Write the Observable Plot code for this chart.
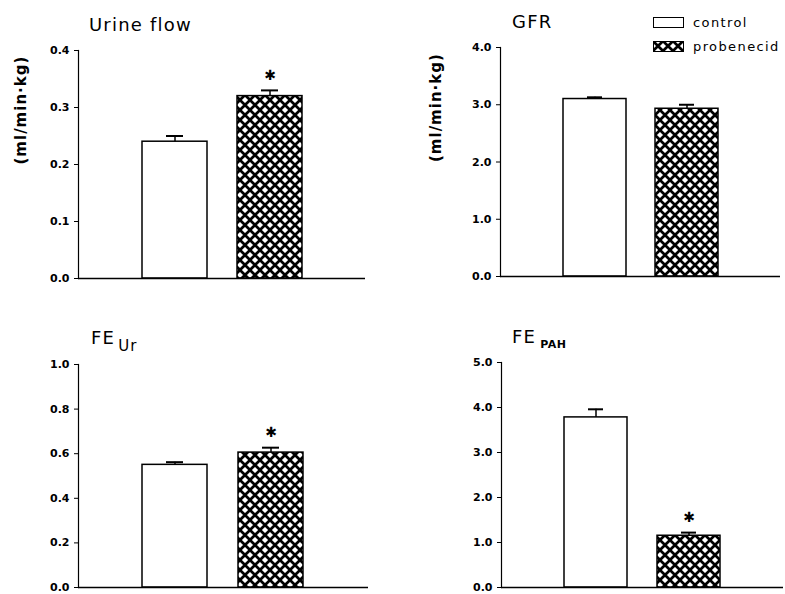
<!DOCTYPE html>
<html><head><meta charset="utf-8">
<script src="https://cdn.jsdelivr.net/npm/d3@7"></script>
<script src="https://cdn.jsdelivr.net/npm/@observablehq/plot@0.6"></script>
<style>
body{margin:0;background:#fff;}
#wrap{position:relative;width:785px;height:594px;overflow:hidden;font-family:"DejaVu Sans",sans-serif;color:#000;}
.panel{position:absolute;}
.panel svg{overflow:visible;}
.title{position:absolute;font-size:18px;line-height:18px;letter-spacing:1.2px;white-space:nowrap;}
.sub{position:relative;}
.legend{position:absolute;font-size:13px;line-height:13px;letter-spacing:1.4px;white-space:nowrap;display:flex;align-items:center;}
.legend svg{margin-right:9px;}
</style></head><body>
<svg width="0" height="0" style="position:absolute">
  <defs>
    <pattern id="xhatch" patternUnits="userSpaceOnUse" width="10" height="10">
      <rect width="10" height="10" fill="white"/>
      <path d="M0,0L10,10M10,0L0,10" stroke="black" stroke-width="2.7"/>
    </pattern>
  </defs>
</svg>
<div id="wrap"></div>
<script>
// ---- data ----
const groups = ["control", "probenecid"];
const urineFlow = [0.24, 0.32];
const urineFlowSem = [0.01, 0.01];
const gfr = [3.10, 2.93];
const gfrSem = [0.03, 0.07];
const feUr = [0.55, 0.605];
const feUrSem = [0.012, 0.022];
const fePah = [3.78, 1.15];
const fePahSem = [0.18, 0.07];
const significant = [[false, true], [false, false], [false, true], [false, true]];
const yMax = [0.4, 4.0, 1.0, 5.0];
const yTicks = [[0, 0.1, 0.2, 0.3, 0.4], [0, 1, 2, 3, 4], [0, 0.2, 0.4, 0.6, 0.8, 1.0], [0, 1, 2, 3, 4, 5]];
const yLabel = "(ml/min·kg)";
const starGlyph = "✱";

// ---- layout ----
const wrap = document.getElementById("wrap");
const layouts = [
  {left: 0, top: 0, ml: 78, mr: 30, mt: 50, mb: 22, label: true, lx: -57},
  {left: 390, top: 0, ml: 110, mr: 5, mt: 47, mb: 24, label: true, lx: -64},
  {left: 0, top: 290, ml: 78, mr: 27, mt: 74, mb: 3, label: false},
  {left: 390, top: 290, ml: 111, mr: 2, mt: 72, mb: 3, label: false}
];
const seriesMeans = [urineFlow, gfr, feUr, fePah];
const seriesSems = [urineFlowSem, gfrSem, feUrSem, fePahSem];

layouts.forEach((L, i) => {
  const rows = groups.map((g, j) => ({
    group: g, mean: seriesMeans[i][j], sem: seriesSems[i][j],
    top: seriesMeans[i][j] + seriesSems[i][j], sig: significant[i][j]
  }));
  const marks = [
    Plot.barY(rows.filter(d => d.group === "control"), {x: "group", y: "mean", fill: "white", stroke: "black", strokeWidth: 1.5}),
    Plot.barY(rows.filter(d => d.group !== "control"), {x: "group", y: "mean", fill: "url(#xhatch)", stroke: "black", strokeWidth: 1.5}),
    Plot.ruleX(rows, {x: "group", y1: "mean", y2: "top", strokeWidth: 1.5}),
    Plot.tickY(rows, {x: "group", y: "top", strokeWidth: 2, insetLeft: 24, insetRight: 24}),
    Plot.text(rows.filter(d => d.sig), {x: "group", y: "top", text: () => starGlyph, dy: -15}),
    Plot.ruleY([0], {strokeWidth: 1.6}),
    Plot.frame({anchor: "left", strokeWidth: 1.2})
  ];
  if (L.label) marks.push(Plot.text([yLabel], {frameAnchor: "left", rotate: -90, dx: L.lx}));
  const chart = Plot.plot({
    width: 395, height: 300,
    marginLeft: L.ml, marginRight: L.mr, marginTop: L.mt, marginBottom: L.mb,
    style: {fontFamily: "DejaVu Sans", fontSize: "11px", fontWeight: "bold", color: "#000", background: "transparent", overflow: "visible"},
    x: {domain: groups, paddingInner: 0.32, paddingOuter: 0.67, axis: null},
    y: {domain: [0, yMax[i]], ticks: yTicks[i], tickFormat: d3.format(".1f"), tickSize: 4, tickPadding: 5, label: null},
    marks
  });
  chart.querySelectorAll("text").forEach(t => {
    if (t.textContent === yLabel) {
      t.style.fontSize = "15px";
      t.style.fontWeight = "bold";
      t.style.letterSpacing = "1px";
    } else if (t.textContent === starGlyph) {
      t.style.fontSize = "14px";
      t.style.fontWeight = "bold";
    }
  });
  const div = document.createElement("div");
  div.className = "panel";
  div.style.left = L.left + "px";
  div.style.top = L.top + "px";
  div.appendChild(chart);
  wrap.appendChild(div);
});

// ---- titles ----
function addTitle(html, left, top) {
  const t = document.createElement("div");
  t.className = "title";
  t.style.left = left + "px";
  t.style.top = top + "px";
  t.innerHTML = html;
  wrap.appendChild(t);
}
addTitle("Urine flow", 89, 16);
addTitle("GFR", 512, 13);
addTitle('FE<span class="sub" style="top:7px;font-size:15px;margin-left:3px">Ur</span>', 91, 329);
addTitle('FE<span class="sub" style="top:5px;font-size:11px;font-weight:bold;margin-left:4px;letter-spacing:0.5px">PAH</span>', 512, 328);

// ---- legend ----
groups.forEach((g, j) => {
  const d = document.createElement("div");
  d.className = "legend";
  d.style.left = "653px";
  d.style.top = (j === 0 ? 16 : 40) + "px";
  d.innerHTML = `<svg width="31" height="11"><rect x="0.5" y="0.5" width="30" height="10" fill="${j === 0 ? "white" : "url(#xhatch)"}" stroke="black" stroke-width="1"/></svg><span>${g}</span>`;
  wrap.appendChild(d);
});
</script>
</body></html>
